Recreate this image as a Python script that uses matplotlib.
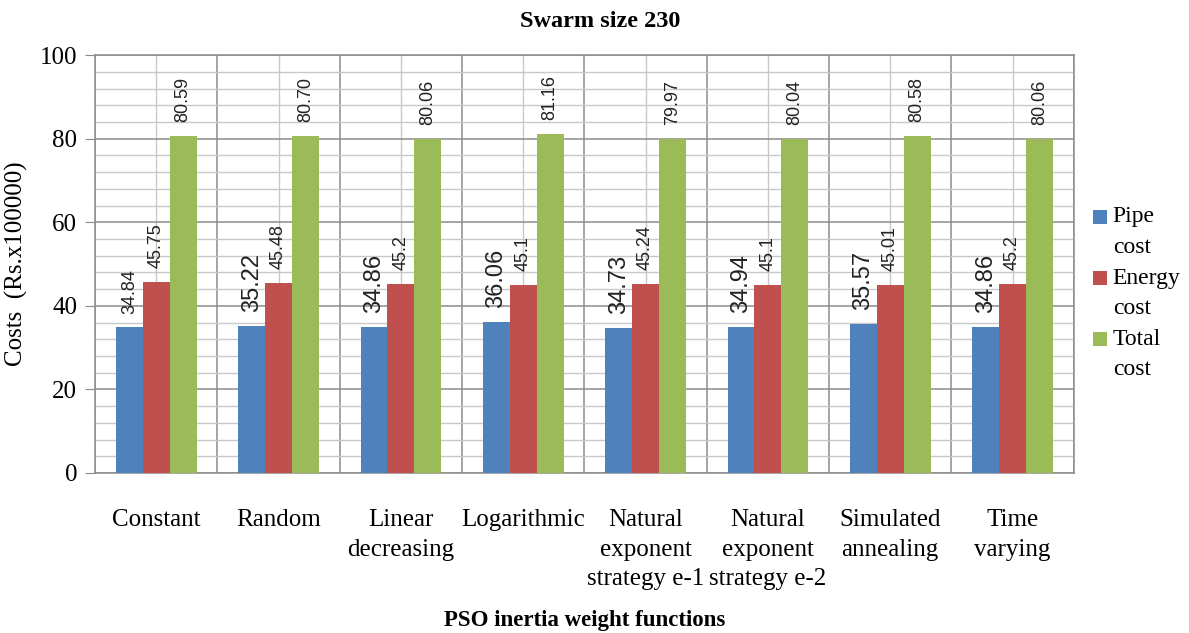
import numpy as np
import matplotlib.pyplot as plt
from matplotlib.ticker import MultipleLocator
from matplotlib.patches import Rectangle
from matplotlib.legend_handler import HandlerPatch
from matplotlib.container import BarContainer

categories = ["Constant", "Random", "Linear\ndecreasing", "Logarithmic",
              "Natural\nexponent\nstrategy e-1", "Natural\nexponent\nstrategy e-2",
              "Simulated\nannealing", "Time\nvarying"]
pipe = [34.84, 35.22, 34.86, 36.06, 34.73, 34.94, 35.57, 34.86]
energy = [45.75, 45.48, 45.2, 45.1, 45.24, 45.1, 45.01, 45.2]
total = [80.59, 80.70, 80.06, 81.16, 79.97, 80.04, 80.58, 80.06]

series = [("Pipe\ncost", pipe, "#4F81BD", "{:g}"),
          ("Energy\ncost", energy, "#C0504D", "{:g}"),
          ("Total\ncost", total, "#9BBB59", "{:.2f}")]

serif = "Liberation Serif"
sans = "Liberation Sans"


def top_square(legend, orig_handle, xdescent, ydescent, width, height, fontsize):
    # kwadracik przy pierwszej linii opisu, jak w Excelu
    s = 0.6 * fontsize
    return Rectangle((-xdescent, -ydescent + height - s * 0.95), s, s)


def copy_style(legend_handle, orig):
    legend_handle.set_facecolor(orig.patches[0].get_facecolor())
    legend_handle.set_edgecolor("none")


fig = plt.figure(figsize=(11.89, 6.33), dpi=100)
ax = fig.add_axes([0.080, 0.2528, 0.823, 0.660])

x = np.arange(len(categories))
w = 0.22
for k, (name, vals, col, fmt) in enumerate(series):
    pos = x + (k - 1) * w
    ax.bar(pos, vals, w, color=col, label=name, zorder=3)
    for i, (p, v) in enumerate(zip(pos, vals)):
        fs = 17 if (k == 0 and i > 0) else 13
        ax.annotate(fmt.format(v), (p, v), xytext=(0, 10), textcoords="offset points",
                    rotation=90, ha="center", va="bottom", fontsize=fs,
                    family=sans, color="#222222")

ax.set_xlim(-0.5, len(categories) - 0.5)
ax.set_ylim(0, 100)
ax.yaxis.set_major_locator(MultipleLocator(20))
ax.yaxis.set_minor_locator(MultipleLocator(4))
ax.set_xticks(x)
ax.set_xticks(np.arange(len(categories) + 1) - 0.5, minor=True)
ax.grid(which="major", axis="y", color="#8c8c8c", lw=1.1, zorder=0)
ax.grid(which="minor", axis="y", color="#c8c8c8", lw=1.0, zorder=0)
ax.grid(which="minor", axis="x", color="#8c8c8c", lw=1.1, zorder=0)
ax.grid(which="major", axis="x", color="#c8c8c8", lw=1.0, zorder=0)

for s in ax.spines.values():
    s.set_color("#8c8c8c")
    s.set_linewidth(1.1)

ax.set_xticklabels(categories, fontsize=18, family=serif, va="top")
for t in ax.get_xticklabels():
    t.set_linespacing(1.45)
ax.tick_params(axis="x", which="both", length=0, pad=26)
ax.tick_params(axis="y", which="major", length=7, color="#8c8c8c", pad=6)
ax.tick_params(axis="y", which="minor", length=0)
for t in ax.get_yticklabels():
    t.set_fontsize(18)
    t.set_family(serif)

ax.set_ylabel("Costs  (Rs.x100000)", fontsize=18, family=serif, labelpad=8)
ax.set_xlabel("PSO inertia weight functions", fontsize=16.5, family=serif,
              fontweight="bold", labelpad=14)
fig.text(0.505, 0.966, "Swarm size 230", ha="center", va="center",
         fontsize=17.5, family=serif, fontweight="bold")

leg = ax.legend(loc="center left", bbox_to_anchor=(1.0, 0.43), frameon=False,
                prop={"family": serif, "size": 17}, handlelength=0.6,
                handleheight=2.6, handletextpad=0.25, labelspacing=0.4,
                borderpad=0, borderaxespad=0.8,
                handler_map={BarContainer: HandlerPatch(patch_func=top_square,
                                                        update_func=copy_style)})
for t in leg.get_texts():
    t.set_linespacing(1.6)

fig.savefig("out.png", dpi=100)
